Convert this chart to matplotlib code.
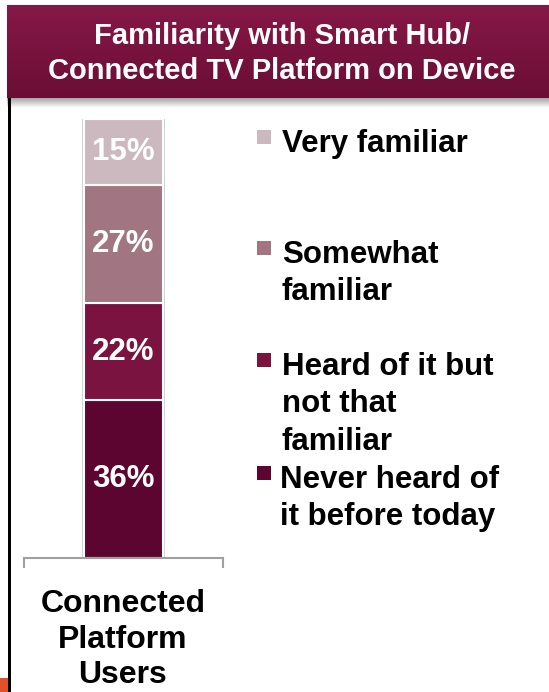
import numpy as np
import matplotlib
matplotlib.use("Agg")
import matplotlib.pyplot as plt
from matplotlib.patches import Rectangle

# ---- data ----
title_lines = ["Familiarity with Smart Hub/", "Connected TV Platform on Device"]
category = ["Connected\nPlatform\nUsers"]
segments = ["Never heard of\nit before today", "Heard of it but\nnot that\nfamiliar",
            "Somewhat\nfamiliar", "Very familiar"]
values = [36, 22, 27, 15]
colors = ["#5c0530", "#7b1341", "#a17581", "#cbb9bf"]

W, H = 549, 692
fig = plt.figure(figsize=(W / 100, H / 100), dpi=100)
fig.patch.set_facecolor("white")
FONT = "Liberation Sans"


def fx(px):
    return px / W


def fy(py):
    return 1 - py / H


# ---- banner with gradient ----
bx0, bx1, by0, by1 = 7, 549, 5, 98
bax = fig.add_axes([fx(bx0), fy(by1), fx(bx1 - bx0), (by1 - by0) / H])
grad = np.linspace(0, 1, 100).reshape(-1, 1)
top = np.array(matplotlib.colors.to_rgb("#861847"))
bot = np.array(matplotlib.colors.to_rgb("#6a0e35"))
img = top[None, None, :] * (1 - grad[..., None]) + bot[None, None, :] * grad[..., None]
bax.imshow(img, aspect="auto", extent=[0, 1, 0, 1])
bax.set_axis_off()

# shadow under the banner
sax = fig.add_axes([fx(bx0), fy(108), fx(bx1 - bx0), 10 / H])
sg = np.linspace(0.65, 1.0, 50).reshape(-1, 1)
sax.imshow(np.repeat(sg[..., None], 3, axis=2), aspect="auto", extent=[0, 1, 0, 1])
sax.set_axis_off()

fig.text(fx(282), fy(44), title_lines[0], color="white", fontsize=21,
         fontweight="bold", family=FONT, ha="center", va="baseline")
fig.text(fx(282), fy(79), title_lines[1], color="white", fontsize=21,
         fontweight="bold", family=FONT, ha="center", va="baseline")

# left black line and orange corner
fig.add_artist(Rectangle((fx(8), 0), fx(3), fy(98), transform=fig.transFigure,
                         facecolor="black", edgecolor="none"))
fig.add_artist(Rectangle((0, 0), fx(8), 14 / H, transform=fig.transFigure,
                         facecolor="#e0502a", edgecolor="none"))

# ---- stacked bar ----
ax_left, ax_right, ax_top, ax_bot = 24, 223, 119, 558
ax = fig.add_axes([fx(ax_left), fy(ax_bot), fx(ax_right - ax_left), (ax_bot - ax_top) / H])
ax.set_xlim(-0.5, 0.5)
ax.set_ylim(0, sum(values))
bottom = 0
for v, c in zip(values, colors):
    # soft shadow
    ax.bar(0, v, width=0.42, bottom=bottom, color="#d0d0d0", edgecolor="none", zorder=1)
    ax.bar(0, v, width=0.4, bottom=bottom, color=c, edgecolor="white", linewidth=1.5, zorder=2)
    ax.text(0, bottom + v / 2, f"{v}%", color="white", fontsize=22.5, fontweight="bold",
            family=FONT, ha="center", va="center", zorder=3)
    bottom += v

for s in ["top", "right", "left"]:
    ax.spines[s].set_visible(False)
ax.spines["bottom"].set_color("#a0a0a0")
ax.spines["bottom"].set_linewidth(1.5)
ax.set_yticks([])
ax.set_xticks([-0.5, 0.5])
ax.set_xticklabels([])
ax.tick_params(axis="x", direction="out", length=7, width=1.5, color="#a0a0a0")
ax.patch.set_alpha(0)

# category label
cat_lines = category[0].split("\n")
for i, line in enumerate(cat_lines):
    fig.text(fx(123), fy(612 + 35.5 * i), line, color="black", fontsize=23,
             fontweight="bold", family=FONT, ha="center", va="baseline")

# ---- legend ----
leg_baselines = [152, 263, 375, 488]  # first-line baselines, top to bottom
leg_order = list(reversed(range(len(segments))))
for k, idx in enumerate(leg_order):
    b = leg_baselines[k]
    fig.add_artist(Rectangle((fx(257), fy(b - 8)), fx(14), 14 / H, transform=fig.transFigure,
                             facecolor=colors[idx], edgecolor="none"))
    for j, line in enumerate(segments[idx].split("\n")):
        fig.text(fx(282 if idx != 0 else 280), fy(b + 37.5 * j), line, color="black",
                 fontsize=22.5, fontweight="bold", family=FONT, ha="left", va="baseline")

fig.savefig("out.png", dpi=100, facecolor="white")
